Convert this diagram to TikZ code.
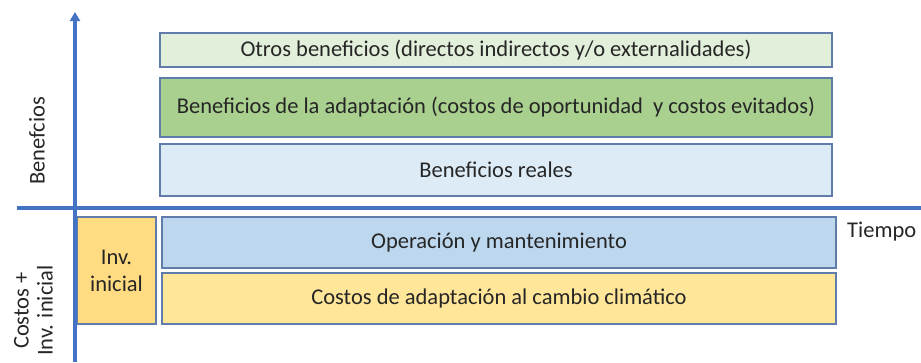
\documentclass[tikz,border=0pt]{standalone}
\usepackage{fontspec}
\setmainfont{Carlito}
\definecolor{axisblue}{RGB}{68, 114, 196}
\definecolor{edgeblue}{RGB}{96, 124, 170}
\definecolor{palegreen}{RGB}{226, 239, 218}
\definecolor{midgreen}{RGB}{169, 208, 142}
\definecolor{paleblue}{RGB}{221, 235, 247}
\definecolor{lightblue}{RGB}{189, 215, 238}
\definecolor{paleyellow}{RGB}{255, 230, 153}
\definecolor{goldyellow}{RGB}{255, 220, 130}
\usetikzlibrary{arrows.meta, positioning}

\begin{document}
\begin{tikzpicture}[
  x=1pt, y=-1pt,
  bar/.style={draw=edgeblue, line width=1.5pt, minimum width=672pt, inner sep=0pt, font=\fontsize{22.5}{27}\selectfont, text=black!85},
  axis/.style={draw=axisblue, line width=3.5pt},
  side/.style={rotate=90, font=\fontsize{22.5}{24}\selectfont, inner sep=0pt, align=center, text=black!85}
]
  \useasboundingbox (0, 0) rectangle (921, 362);

  \node[bar, fill=palegreen, minimum height=34pt] (otros) at (496, 50) {Otros beneficios (directos indirectos y/o externalidades)};
  \node[bar, fill=midgreen, minimum height=59pt] (adapt) at (496, 107.5) {Beneficios de la adaptación (costos de oportunidad\ \ y costos evitados)};
  \node[bar, fill=paleblue, minimum height=52pt] (reales) at (496, 170) {Beneficios reales};

  \node[bar, fill=goldyellow, minimum width=79pt, minimum height=107pt, align=center] (inv) at (116.5, 270.5) {Inv.\\inicial};
  \node[bar, fill=lightblue, minimum width=674pt, minimum height=51pt] (oper) at (499, 242.5) {Operación y mantenimiento};
  \node[bar, fill=paleyellow, minimum width=674pt, minimum height=51pt] (costos) at (499, 298.5) {Costos de adaptación al cambio climático};

  \coordinate (ybot) at (75, 362);
  \coordinate (ytop) at (75, 12);
  \coordinate (xleft) at (17, 208);
  \coordinate (xright) at (921, 208);
  \draw[axis, -{Triangle[length=9pt, width=10pt]}] (ybot) -- (ytop);
  \draw[axis] (xleft) -- (xright);

  \node[font=\fontsize{22.5}{27}\selectfont, anchor=west, inner sep=0pt, text=black!85] (tiempo) at (847, 232) {Tiempo};
  \node[side] (benef) at (37, 141) {Benefcios};
  \node[side, anchor=east] (costinv) at (33.5, 265) {Costos +\\Inv. inicial};
\end{tikzpicture}
\end{document}
